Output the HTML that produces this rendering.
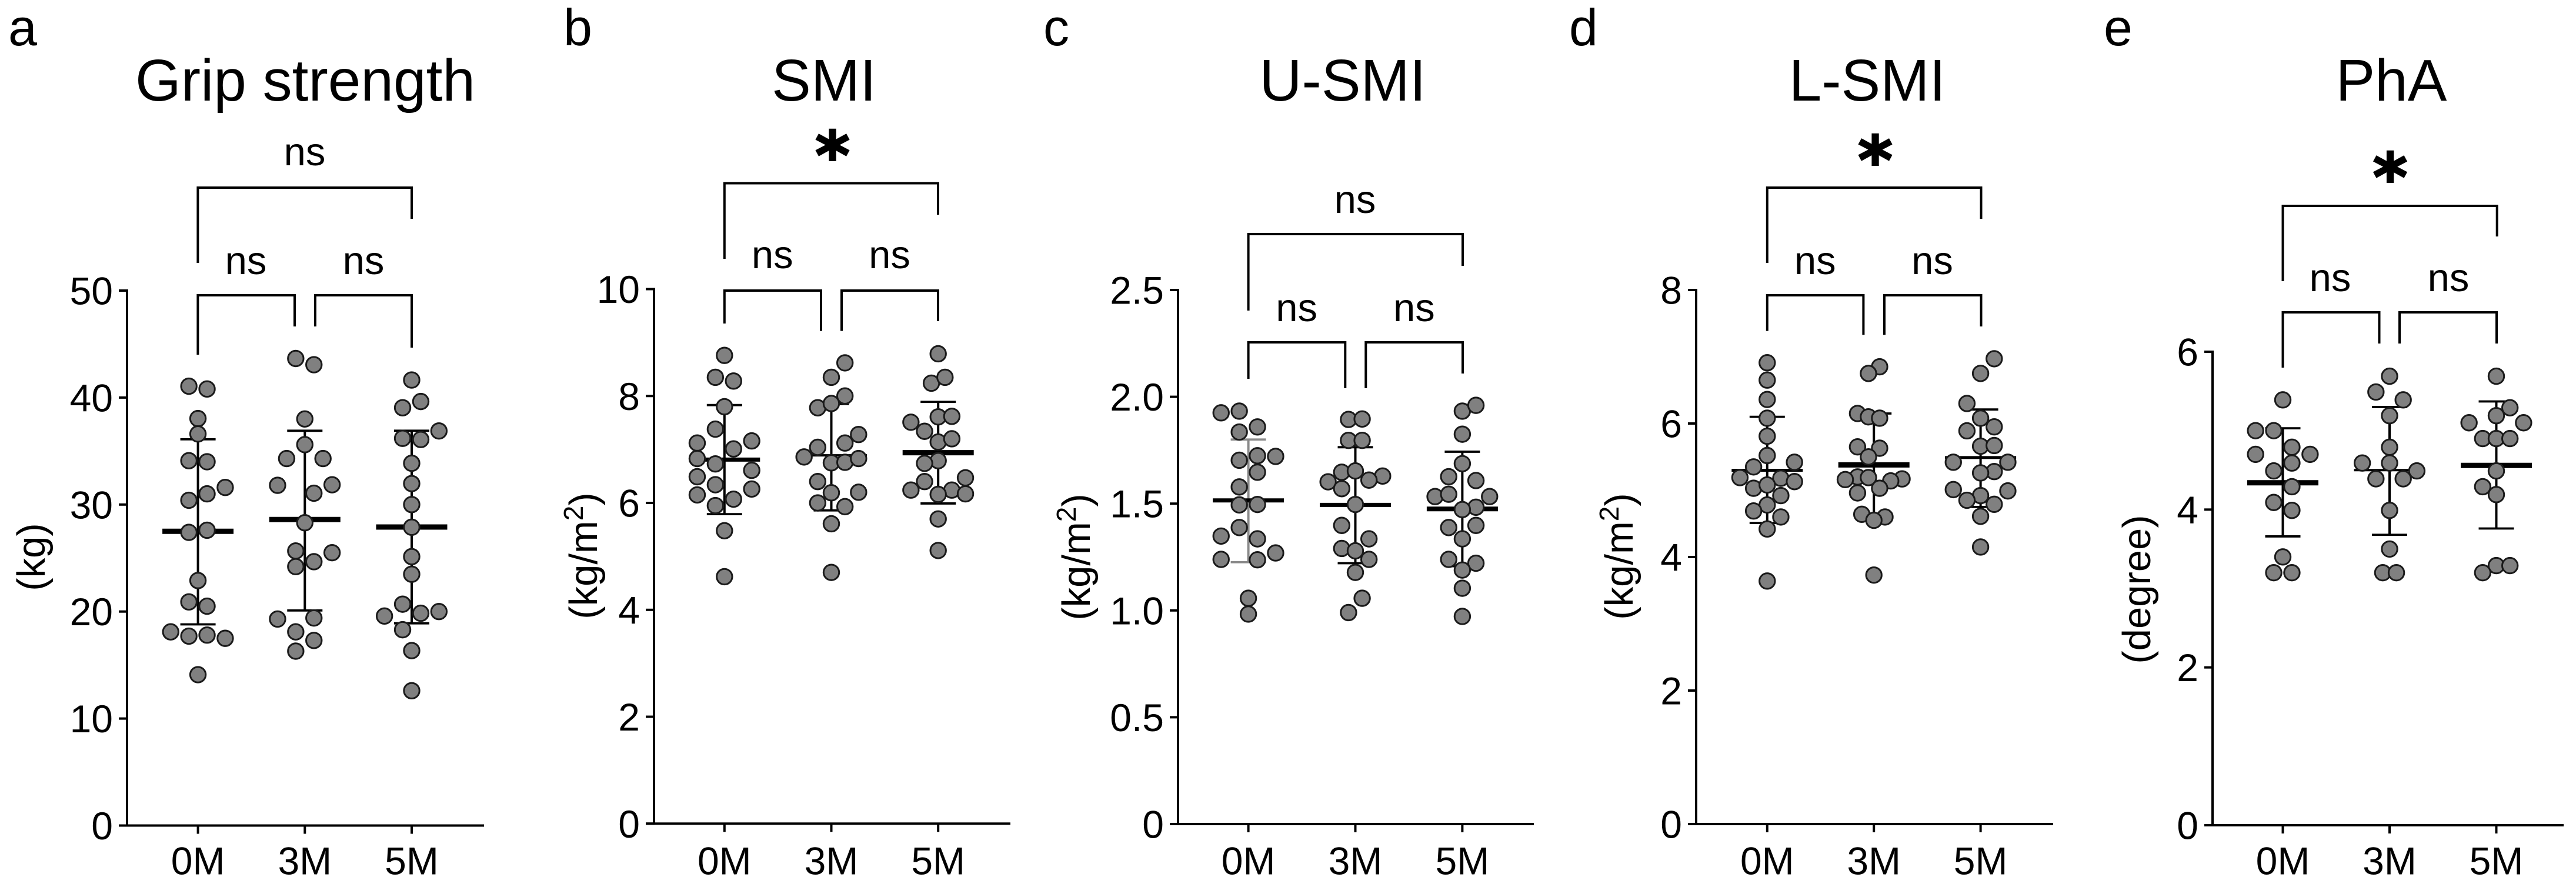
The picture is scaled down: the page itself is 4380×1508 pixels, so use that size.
<!DOCTYPE html>
<html lang="en">
<head>
<meta charset="utf-8">
<title>Muscle measures at 0M, 3M and 5M</title>
<style>
  html, body { margin: 0; padding: 0; background: #fff; }
  svg { display: block; }
  text { font-family: "Liberation Sans", Arial, sans-serif; fill: #000; }
  .letter { font-size: 88px; }
  .title { font-size: 100px; text-anchor: middle; }
  .ns { font-size: 67px; text-anchor: middle; }
  .star { font-family: "DejaVu Sans", sans-serif; font-size: 112px; font-weight: bold; text-anchor: middle; stroke: #000; stroke-width: 3; }
  .ylab { font-size: 67px; text-anchor: middle; }
  .bracket { fill: none; stroke: #000; stroke-width: 4; }
</style>
</head>
<body>
<svg id="fig" xmlns="http://www.w3.org/2000/svg" width="4380" height="1508" viewBox="0 0 4380 1508">
  <rect width="4380" height="1508" fill="#fff"/>

  <!-- Panel letters -->
  <text class="letter" x="14" y="77">a</text>
  <text class="letter" x="958" y="77">b</text>
  <text class="letter" x="1774" y="77">c</text>
  <text class="letter" x="2668" y="77">d</text>
  <text class="letter" x="3577" y="77">e</text>

  <!-- Titles -->
  <text class="title" x="519" y="171">Grip strength</text>
  <text class="title" x="1401" y="171">SMI</text>
  <text class="title" x="2283" y="171">U-SMI</text>
  <text class="title" x="3175" y="171">L-SMI</text>
  <text class="title" x="4066" y="171">PhA</text>

  <!-- Y axis titles -->
  <text class="ylab" transform="translate(76 947) rotate(-90)">(kg)</text>
  <text class="ylab" transform="translate(1015 945) rotate(-90)">(kg/m<tspan dy="-24" font-size="46">2</tspan><tspan dy="24">)</tspan></text>
  <text class="ylab" transform="translate(1853 947) rotate(-90)">(kg/m<tspan dy="-24" font-size="46">2</tspan><tspan dy="24">)</tspan></text>
  <text class="ylab" transform="translate(2776 946) rotate(-90)">(kg/m<tspan dy="-24" font-size="46">2</tspan><tspan dy="24">)</tspan></text>
  <text class="ylab" transform="translate(3656 1002) rotate(-90)">(degree)</text>

  <!-- Significance brackets, panel a -->
  <path class="bracket" d="M336.4 447V319H700V372"/>
  <path class="bracket" d="M336.4 603V502H501V555"/>
  <path class="bracket" d="M536 555V502H700V591"/>
  <text class="ns" x="518" y="281">ns</text>
  <text class="ns" x="418" y="466">ns</text>
  <text class="ns" x="618" y="466">ns</text>

  <!-- Panel b -->
  <path class="bracket" d="M1231.8 440V311.5H1595V365"/>
  <path class="bracket" d="M1231.8 550V494H1396V562.6"/>
  <path class="bracket" d="M1431 562.6V494H1595V546"/>
  <text class="star" x="1415.5" y="304">*</text>
  <text class="ns" x="1313.3" y="456">ns</text>
  <text class="ns" x="1512.5" y="456">ns</text>

  <!-- Panel c -->
  <path class="bracket" d="M2122.6 528V398H2487V452"/>
  <path class="bracket" d="M2122.6 644V582H2287.3V660"/>
  <path class="bracket" d="M2322.3 660V582H2487V635"/>
  <text class="ns" x="2304" y="362">ns</text>
  <text class="ns" x="2204.6" y="546">ns</text>
  <text class="ns" x="2404.4" y="546">ns</text>

  <!-- Panel d -->
  <path class="bracket" d="M3004.8 447V319H3368.5V372"/>
  <path class="bracket" d="M3004.8 562.6V502H3168.4V569.3"/>
  <path class="bracket" d="M3204 569.3V502H3368.5V555"/>
  <text class="star" x="3188.5" y="312">*</text>
  <text class="ns" x="3086.3" y="466">ns</text>
  <text class="ns" x="3285.5" y="466">ns</text>

  <!-- Panel e -->
  <path class="bracket" d="M3881.5 478V350H4245.7V402"/>
  <path class="bracket" d="M3881.5 625V531H4045.5V584"/>
  <path class="bracket" d="M4080 584V531H4245V584"/>
  <text class="star" x="4064" y="341">*</text>
  <text class="ns" x="3962" y="495">ns</text>
  <text class="ns" x="4163" y="495">ns</text>

  <g id="panels"></g>
</svg>

<script>
// ---- Shared categories ----
const categories = ['0M', '3M', '5M'];

// ---- Grip strength (kg) ----
const gripTicks = ['0', '10', '20', '30', '40', '50'];
const gripValues0M = [41.06, 40.8, 38.04, 36.6, 34.1, 34.0, 31.6, 31.0, 30.4, 27.4, 27.6, 22.9, 20.9, 20.5, 18.1, 17.7, 17.8, 17.5, 14.1];
const gripValues3M = [43.65, 43.07, 38.0, 35.6, 34.3, 34.3, 31.8, 31.85, 31.06, 28.3, 25.66, 25.5, 24.2, 24.66, 19.3, 19.4, 18.1, 17.3, 16.3];
const gripValues5M = [41.64, 39.05, 39.63, 36.88, 36.19, 36.08, 33.86, 31.96, 30.0, 27.88, 25.13, 23.49, 20.69, 19.58, 19.84, 20.0, 18.3, 16.35, 12.6];
const gripSwarm0M = [-1, 1, 0, 0, -1, 1, 3, 1, -1, -1, 1, 0, -1, 1, -3, -1, 1, 3, 0];
const gripSwarm3M = [-1, 1, 0, 0, -2, 2, -3, 3, 1, 0, -1, 3, -1, 1, -3, 1, -1, 1, -1];
const gripSwarm5M = [0, -1, 1, 3, -1, 1, 0, 0, 0, 0, 0, 0, -1, -3, 1, 3, -1, 0, 0];
const gripMeans = [27.5, 28.6, 27.9];
const gripUpper = [36.1, 36.9, 36.9];
const gripLower = [18.8, 20.1, 18.9];

// ---- SMI (kg/m2) ----
const smiTicks = ['0', '2', '4', '6', '8', '10'];
const smiValues0M = [8.76, 8.35, 8.28, 7.8, 7.38, 7.12, 7.16, 7.01, 6.83, 6.73, 6.61, 6.49, 6.34, 6.07, 6.15, 6.26, 5.95, 5.48, 4.62];
const smiValues3M = [8.62, 8.35, 8.0, 7.78, 7.86, 7.28, 7.12, 7.04, 6.86, 6.75, 6.76, 6.83, 6.4, 6.19, 6.2, 6.0, 5.93, 5.61, 4.7];
const smiValues5M = [8.79, 8.24, 8.35, 7.51, 7.61, 7.62, 7.34, 7.14, 7.2, 6.79, 6.74, 6.47, 6.4, 6.24, 6.24, 6.16, 6.17, 5.7, 5.11];
const smiSwarm0M = [0, -1, 1, 0, -1, -3, 3, 1, -3, -1, 3, -3, -1, 1, -3, 3, -1, 0, 0];
const smiSwarm3M = [1.5, 0, 1.5, -1.5, 0, 3, 1.5, -1.5, -3, 0, 1.5, 3, -1.5, 0, 3, -1.5, 1.5, 0, 0];
const smiSwarm5M = [0, -0.75, 0.75, -3, 0, 1.5, -1.5, 0, 1.5, 0, -1.5, 3, -1.5, -3, 1.5, 0, 3, 0, 0];
const smiMeans = [6.81, 6.89, 6.94];
const smiUpper = [7.83, 7.85, 7.89];
const smiLower = [5.79, 5.86, 5.99];

// ---- U-SMI (kg/m2) ----
const usmiTicks = ['0', '0.5', '1.0', '1.5', '2.0', '2.5'];
const usmiValues0M = [1.925, 1.933, 1.835, 1.859, 1.703, 1.724, 1.721, 1.647, 1.578, 1.494, 1.496, 1.388, 1.348, 1.335, 1.269, 1.239, 1.237, 1.057, 0.983];
const usmiValues3M = [1.894, 1.896, 1.796, 1.796, 1.647, 1.653, 1.629, 1.602, 1.61, 1.57, 1.496, 1.398, 1.335, 1.29, 1.279, 1.239, 1.178, 1.057, 0.99];
const usmiValues5M = [1.933, 1.96, 1.825, 1.687, 1.626, 1.608, 1.533, 1.544, 1.533, 1.483, 1.472, 1.388, 1.398, 1.335, 1.239, 1.221, 1.189, 1.104, 0.972];
const usmiSwarm0M = [-3, -1, -1, 1, -1, 1, 3, 1, -1, -1, 1, -1, -3, 1, 3, -3, 1, 0, 0];
const usmiSwarm3M = [-0.75, 0.75, -0.75, 0.75, -1.5, 0, 3, -3, 1.5, -1.5, 0, -1.5, 1.5, -1.5, 0, 1.5, 0, 0.75, -0.75];
const usmiSwarm5M = [0, 1.5, 0, 0, -1.5, 1.5, -3, -1.5, 3, 1.5, 0, -1.5, 1.5, 0, -1.5, 1.5, 0, 0, 0];
const usmiMeans = [1.515, 1.494, 1.475];
const usmiUpper = [1.8, 1.764, 1.743];
const usmiLower = [1.226, 1.221, 1.207];

// ---- L-SMI (kg/m2) ----
const lsmiTicks = ['0', '2', '4', '6', '8'];
const lsmiValues0M = [6.91, 6.65, 6.36, 6.08, 5.81, 5.52, 5.42, 5.35, 5.19, 5.18, 5.13, 5.03, 5.08, 4.92, 4.78, 4.69, 4.6, 4.42, 3.64];
const lsmiValues3M = [6.85, 6.75, 6.15, 6.1, 6.08, 5.65, 5.63, 5.5, 5.2, 5.16, 5.19, 5.17, 5.14, 5.03, 4.96, 4.64, 4.6, 4.55, 3.73];
const lsmiValues5M = [6.97, 6.75, 6.3, 6.08, 5.95, 5.89, 5.66, 5.67, 5.42, 5.42, 5.28, 5.26, 5.01, 4.99, 4.92, 4.85, 4.79, 4.61, 4.15];
const lsmiSwarm0M = [0, 0, 0, 0, 0, 0, 3, -1.5, -3, 1.5, 3, -1.5, 0, 1.5, 0, -1.5, 1.5, 0, 0];
const lsmiSwarm3M = [0.63, -0.6, -1.8, -0.6, 0.63, -1.8, 0.63, -0.6, -1.8, -3.15, -0.6, 3.1, 1.85, 0.63, -1.8, -1.33, 1.22, 0, 0];
const lsmiSwarm5M = [1.5, 0, -1.5, 0, 1.5, -1.5, 0, 1.5, -3, 3, 1.5, 0, -3, 3, 0, -1.5, 1.5, 0, 0];
const lsmiMeans = [5.3, 5.38, 5.49];
const lsmiUpper = [6.1, 6.15, 6.21];
const lsmiLower = [4.51, 4.61, 4.75];

// ---- PhA (degree) ----
const phaTicks = ['0', '2', '4', '6'];
const phaValues0M = [5.39, 5.0, 5.0, 4.79, 4.7, 4.7, 4.59, 4.49, 4.29, 4.09, 3.99, 3.4, 3.2, 3.2];
const phaValues3M = [5.69, 5.49, 5.39, 5.19, 4.79, 4.59, 4.59, 4.49, 4.39, 4.39, 3.99, 3.5, 3.2, 3.2];
const phaValues5M = [5.69, 5.29, 5.19, 5.1, 5.1, 4.9, 4.9, 4.9, 4.49, 4.29, 4.19, 3.29, 3.29, 3.2];
const phaSwarm0M = [0, -3, -1, 1, -3, 3, 1, -1, 1, -1, 1, 0, -1, 1];
const phaSwarm3M = [0, -1.5, 1.5, 0, 0, -3, 0, 3, -1.5, 1.5, 0, 0, -0.75, 0.75];
const phaSwarm5M = [0, 1.5, 0, -3, 3, -1.5, 0, 1.5, 0, -1.5, 0, 0, 1.5, -1.5];
const phaMeans = [4.34, 4.5, 4.56];
const phaUpper = [5.03, 5.3, 5.37];
const phaLower = [3.66, 3.68, 3.76];

const SVG_NS = 'http://www.w3.org/2000/svg';
const root = document.getElementById('panels');

function make(parent, tag, attrs, content) {
  const el = document.createElementNS(SVG_NS, tag);
  for (const key in attrs) el.setAttribute(key, attrs[key]);
  if (content !== undefined) el.textContent = content;
  parent.appendChild(el);
  return el;
}

function drawPanel(cfg) {
  const group = make(root, 'g', {});
  
  

  const yMax = parseFloat(cfg.ticks[cfg.ticks.length - 1]);
  const yScale = function (v) { return cfg.bottom - (v / yMax) * (cfg.bottom - cfg.top); };
  const xScale = function (i) { return cfg.catStart + i * cfg.catStep; };
  const slotWidth = 15.45;

  // Axes
  const yAxis = make(group, 'line', { x1: cfg.axisX, x2: cfg.axisX, y1: cfg.top - 2, y2: cfg.bottom + 2, stroke: '#000', 'stroke-width': 4 });
  
  
  const xAxis = make(group, 'line', { x1: cfg.axisX - 14, x2: cfg.right, y1: cfg.bottom, y2: cfg.bottom, stroke: '#000', 'stroke-width': 4 });
  
  

  cfg.ticks.forEach(function (label) {
    const y = yScale(parseFloat(label));
    const tick = make(group, 'line', { x1: cfg.axisX - 14, x2: cfg.axisX, y1: y, y2: y, stroke: '#000', 'stroke-width': 4 });
    
    
    const text = make(group, 'text', { x: cfg.axisX - 24, y: y + 23.5, 'font-size': 66, 'text-anchor': 'end' }, label);
    
    
  });

  categories.forEach(function (cat, i) {
    const x = xScale(i);
    const tick = make(group, 'line', { x1: x, x2: x, y1: cfg.bottom, y2: cfg.bottom + 14, stroke: '#000', 'stroke-width': 4 });
    
    
    const text = make(group, 'text', { x: x, y: 1486.5, 'font-size': 66, 'text-anchor': 'middle' }, cat);
    
    

    const color = (cfg.errorColors && cfg.errorColors[i]) || '#000';

    // Error bar
    const stem = make(group, 'line', { x1: x, x2: x, y1: yScale(cfg.upper[i]), y2: yScale(cfg.lower[i]), stroke: color, 'stroke-width': 4 });
    
    
    const capTop = make(group, 'line', { x1: x - 30, x2: x + 30, y1: yScale(cfg.upper[i]), y2: yScale(cfg.upper[i]), stroke: color, 'stroke-width': 3.8 });
    
    
    const capBottom = make(group, 'line', { x1: x - 30, x2: x + 30, y1: yScale(cfg.lower[i]), y2: yScale(cfg.lower[i]), stroke: color, 'stroke-width': 3.8 });
    
    

    // Mean line
    const mean = make(group, 'line', { x1: x - 60.5, x2: x + 60.5, y1: yScale(cfg.means[i]), y2: yScale(cfg.means[i]), stroke: '#000', 'stroke-width': cfg.meanWeights[i] });
    
    
  });

  // Points, drawn last so they sit above the lines
  categories.forEach(function (cat, i) {
    cfg.values[i].forEach(function (v, j) {
      const point = make(group, 'circle', {
        cx: xScale(i) + cfg.swarm[i][j] * slotWidth,
        cy: yScale(v),
        r: 13.2,
        fill: '#808080',
        stroke: '#1a1a1a',
        'stroke-width': 3
      });
      
      
    });
  });
}

drawPanel({
  id: 'grip-strength', axisX: 216, right: 823, bottom: 1403.5, top: 494, catStart: 336.6, catStep: 181.7,
  ticks: gripTicks, means: gripMeans, upper: gripUpper, lower: gripLower,
  values: [gripValues0M, gripValues3M, gripValues5M], swarm: [gripSwarm0M, gripSwarm3M, gripSwarm5M],
  meanWeights: [9, 9, 9]
});
drawPanel({
  id: 'smi', axisX: 1112, right: 1718, bottom: 1400.3, top: 491.5, catStart: 1231.8, catStep: 181.7,
  ticks: smiTicks, means: smiMeans, upper: smiUpper, lower: smiLower,
  values: [smiValues0M, smiValues3M, smiValues5M], swarm: [smiSwarm0M, smiSwarm3M, smiSwarm5M],
  meanWeights: [7, 4, 9]
});
drawPanel({
  id: 'u-smi', axisX: 2003, right: 2608, bottom: 1401, top: 493, catStart: 2122.6, catStep: 181.9,
  ticks: usmiTicks, means: usmiMeans, upper: usmiUpper, lower: usmiLower,
  values: [usmiValues0M, usmiValues3M, usmiValues5M], swarm: [usmiSwarm0M, usmiSwarm3M, usmiSwarm5M],
  meanWeights: [7, 7, 8], errorColors: ['#8a8a8a', '#000', '#000']
});
drawPanel({
  id: 'l-smi', axisX: 2884, right: 3491, bottom: 1401, top: 493, catStart: 3004.8, catStep: 181.4,
  ticks: lsmiTicks, means: lsmiMeans, upper: lsmiUpper, lower: lsmiLower,
  values: [lsmiValues0M, lsmiValues3M, lsmiValues5M], swarm: [lsmiSwarm0M, lsmiSwarm3M, lsmiSwarm5M],
  meanWeights: [5, 9, 5]
});
drawPanel({
  id: 'pha', axisX: 3762, right: 4359, bottom: 1403, top: 598, catStart: 3881.5, catStep: 181.5,
  ticks: phaTicks, means: phaMeans, upper: phaUpper, lower: phaLower,
  values: [phaValues0M, phaValues3M, phaValues5M], swarm: [phaSwarm0M, phaSwarm3M, phaSwarm5M],
  meanWeights: [9, 4, 9]
});
</script>
</body>
</html>
